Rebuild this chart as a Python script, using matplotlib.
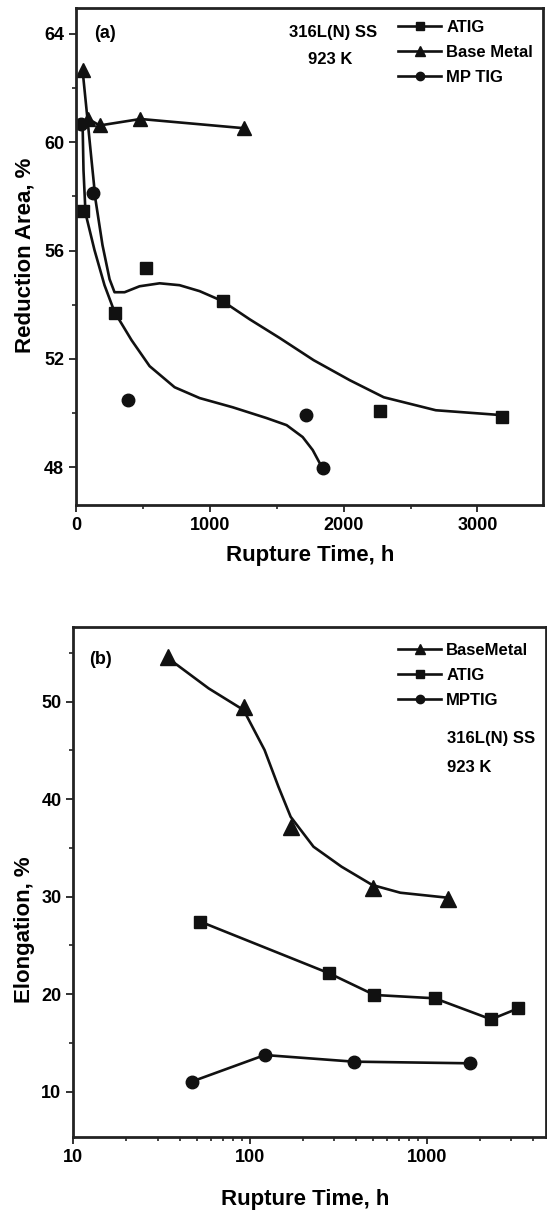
import matplotlib
matplotlib.use("Agg")
import matplotlib.pyplot as plt
from matplotlib import font_manager
from matplotlib.ticker import MultipleLocator, FixedLocator, LogLocator, NullFormatter

# narrow font if there is one, like the scanned figure
fam = ['Liberation Sans', 'DejaVu Sans']
try:
    font_manager.findfont('Liberation Sans Narrow', fallback_to_default=False)
    fam = ['Liberation Sans Narrow'] + fam
except Exception:
    pass
plt.rcParams['font.family'] = fam
plt.rcParams['font.weight'] = 'bold'

W, H = 547, 1223

# ---- panel (a): reduction area vs rupture time (linear) ----
a_atig_t = [52, 288, 520, 1096, 2270, 3182]
a_atig_ra = [57.46, 53.71, 55.34, 54.13, 50.08, 49.86]
a_bm_t = [51, 93, 176, 482, 1254]
a_bm_ra = [62.67, 60.86, 60.62, 60.86, 60.52]
a_mp_t = [41, 127, 388, 1722, 1846]
a_mp_ra = [60.67, 58.12, 50.47, 49.92, 47.95]

# hand drawn fit curves
a_fit1_t = [49, 79, 116, 146, 198, 251, 288, 363, 475, 625, 774, 924, 1096, 1298,
            1522, 1776, 2046, 2300, 2689, 3182]
a_fit1_ra = [62.67, 61.19, 59.34, 57.87, 56.20, 54.94, 54.46, 54.46, 54.68, 54.79,
             54.72, 54.50, 54.13, 53.46, 52.77, 51.95, 51.21, 50.58, 50.10, 49.92]
a_fit2_t = [49, 56, 71, 138, 213, 288, 415, 550, 737, 924, 1171, 1425, 1574, 1694,
            1769, 1821, 1844]
a_fit2_ra = [60.75, 58.97, 57.38, 56.02, 54.72, 53.73, 52.69, 51.73, 50.95, 50.55,
             50.21, 49.81, 49.55, 49.11, 48.63, 48.15, 47.96]

# ---- panel (b): elongation vs rupture time (log) ----
b_bm_t = [34.5, 92.4, 170.4, 495, 1316]
b_bm_el = [54.6, 49.5, 37.2, 30.9, 29.8]
b_bm_fit_t = [34.5, 58.4, 92.1, 121, 145, 170, 229, 330, 493, 710, 1312]
b_bm_fit_el = [54.45, 51.37, 49.15, 45.05, 41.28, 38.2, 35.13, 33.08, 31.2, 30.41, 29.9]
b_atig_t = [52.4, 281, 507, 1112, 2320, 3304]
b_atig_el = [27.44, 22.14, 19.92, 19.58, 17.42, 18.55]
b_mp_t = [46.8, 121.4, 386, 1766]
b_mp_el = [11.03, 13.76, 13.08, 12.91]


def box(l, t, r, b):
    return [l / W, 1 - b / H, (r - l) / W, (b - t) / H]


def fx(px):
    return px / W


def fy(py):
    return 1 - py / H


fig = plt.figure(figsize=(W / 100, H / 100), dpi=100)

lw = 1.9
ms = 9
ink = '#111'
tk = dict(direction='out', width=1.3, labelsize=13, color='#222')

# ===== (a) =====
ax1 = fig.add_axes(box(76, 8, 543, 505))
ax1.plot(a_fit1_t, a_fit1_ra, color=ink, lw=lw)
ax1.plot(a_fit2_t, a_fit2_ra, color=ink, lw=lw)
ax1.plot(a_bm_t[1:], a_bm_ra[1:], color=ink, lw=lw)
ax1.plot(a_atig_t, a_atig_ra, 's', color=ink, ms=ms)
ax1.plot(a_bm_t, a_bm_ra, '^', color=ink, ms=ms + 1)
ax1.plot(a_mp_t, a_mp_ra, 'o', color=ink, ms=ms)
ax1.set_xlim(0, 3490)
ax1.set_ylim(46.6, 64.96)
ax1.xaxis.set_major_locator(MultipleLocator(1000))
ax1.xaxis.set_minor_locator(MultipleLocator(500))
ax1.yaxis.set_major_locator(FixedLocator([48, 52, 56, 60, 64]))
ax1.yaxis.set_minor_locator(MultipleLocator(2))
ax1.tick_params(which='major', length=5, **tk)
ax1.tick_params(which='minor', length=3, direction='out', width=1.2, color='#222')
for s in ax1.spines.values():
    s.set_linewidth(2)
    s.set_color('#222')

# legend (a)
la_h = [
    plt.Line2D([], [], color=ink, lw=lw, marker='s', ms=6),
    plt.Line2D([], [], color=ink, lw=lw, marker='^', ms=7),
    plt.Line2D([], [], color=ink, lw=lw, marker='o', ms=6),
]
ax1.legend(la_h, ['ATIG', 'Base Metal', 'MP TIG'], loc='upper left',
           bbox_to_anchor=((398 - 76) / 467, 1 - (20 - 8) / 497), frameon=False,
           fontsize=12, handlelength=2.6, handletextpad=0.3, labelspacing=0.6,
           borderpad=0, borderaxespad=0)

fig.text(fx(105), fy(34), '(a)', fontsize=13, ha='center', va='center')
fig.text(fx(333), fy(32), '316L(N) SS', fontsize=12, ha='center', va='center')
fig.text(fx(330), fy(60), '923 K', fontsize=12, ha='center', va='center')
fig.text(fx(310), fy(556), 'Rupture Time, h', fontsize=16, ha='center', va='center')
fig.text(fx(25), fy(255), 'Reduction Area, %', fontsize=16, ha='center', va='center',
         rotation=90)

# ===== (b) =====
ax2 = fig.add_axes(box(73.3, 626.7, 546, 1137))
ax2.set_xscale('log')
ax2.plot(b_bm_fit_t, b_bm_fit_el, color=ink, lw=lw)
ax2.plot(b_bm_t, b_bm_el, '^', color=ink, ms=ms + 2)
ax2.plot(b_atig_t, b_atig_el, '-s', color=ink, lw=lw, ms=ms)
ax2.plot(b_mp_t, b_mp_el, '-o', color=ink, lw=lw, ms=ms)
ax2.set_xlim(10, 4743)
ax2.set_ylim(5.35, 57.7)
ax2.xaxis.set_minor_locator(LogLocator(base=10, subs=range(2, 10)))
ax2.xaxis.set_minor_formatter(NullFormatter())
ax2.set_xticks([10, 100, 1000])
ax2.set_xticklabels(['10', '100', '1000'])
ax2.yaxis.set_major_locator(MultipleLocator(10))
ax2.yaxis.set_minor_locator(MultipleLocator(5))
ax2.tick_params(which='major', length=5, **tk)
ax2.tick_params(which='minor', length=3, direction='out', width=1.2, color='#222')
for s in ax2.spines.values():
    s.set_linewidth(2)
    s.set_color('#222')

lb_h = [
    plt.Line2D([], [], color=ink, lw=lw, marker='^', ms=7),
    plt.Line2D([], [], color=ink, lw=lw, marker='s', ms=6),
    plt.Line2D([], [], color=ink, lw=lw, marker='o', ms=6),
]
ax2.legend(lb_h, ['BaseMetal', 'ATIG', 'MPTIG'], loc='upper left',
           bbox_to_anchor=((398 - 73.3) / 472.7, 1 - (643 - 626.7) / 510.3), frameon=False,
           fontsize=12, handlelength=2.6, handletextpad=0.3, labelspacing=0.6,
           borderpad=0, borderaxespad=0)
fig.text(fx(447), fy(738), '316L(N) SS', fontsize=12, ha='left', va='center')
fig.text(fx(447), fy(767), '923 K', fontsize=12, ha='left', va='center')
fig.text(fx(100), fy(659), '(b)', fontsize=13, ha='center', va='center')
fig.text(fx(305), fy(1200), 'Rupture Time, h', fontsize=16, ha='center', va='center')
fig.text(fx(25), fy(930), 'Elongation, %', fontsize=16, ha='center', va='center',
         rotation=90)

fig.savefig('out.png', dpi=100)
